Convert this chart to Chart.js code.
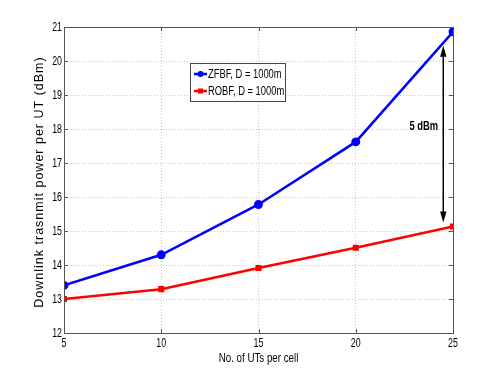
<!DOCTYPE html>
<html><head><meta charset="utf-8">
<script src="https://cdn.jsdelivr.net/npm/chart.js@4/dist/chart.umd.min.js"></script>
<style>html,body{margin:0;padding:0;background:#fff}#wrap{width:498px;height:374px}</style>
</head><body><div id="wrap"><canvas id="c" width="498" height="374"></canvas></div>
<script>
const categories = [5, 10, 15, 20, 25];
const zfbf = [13.4, 14.3, 15.78, 17.62, 20.86];
const robf = [13.0, 13.29, 13.91, 14.51, 15.13];
const seriesNames = ['ZFBF, D = 1000m', 'ROBF, D = 1000m'];
const yTicks = [12, 13, 14, 15, 16, 17, 18, 19, 20, 21];
const xTicks = [5, 10, 15, 20, 25];
const xTitle = 'No. of UTs per cell';
const yTitle = 'Downlink trasnmit power per UT (dBm)';
const arrowX = 24.5, arrowTop = 20.45, arrowBottom = 15.25;
const arrowLabel = '5 dBm', arrowLabelX = 23.5, arrowLabelY = 18.08;
const FONT = '"Liberation Sans", Arial, sans-serif';

function narrowText(ctx, t, x, y, font, sx, align) {
  ctx.save();
  ctx.font = font; ctx.textAlign = align; ctx.textBaseline = 'middle';
  ctx.translate(x, y); ctx.scale(sx, 1);
  ctx.fillText(t, 0, 0);
  ctx.restore();
}

const framePlugin = {
  id: 'frame',
  afterDatasetsDraw(chart) {
    const {ctx, chartArea: a, scales: {x, y}} = chart;
    ctx.save();
    ctx.strokeStyle = '#555'; ctx.lineWidth = 1;
    ctx.beginPath();
    xTicks.forEach(v => { const px = Math.round(x.getPixelForValue(v)) + 0.5;
      ctx.moveTo(px, a.bottom); ctx.lineTo(px, a.bottom - 4);
      ctx.moveTo(px, a.top); ctx.lineTo(px, a.top + 4); });
    yTicks.forEach(v => { const py = Math.round(y.getPixelForValue(v)) + 0.5;
      ctx.moveTo(a.left, py); ctx.lineTo(a.left + 4, py);
      ctx.moveTo(a.right, py); ctx.lineTo(a.right - 4, py); });
    ctx.stroke();
    ctx.strokeRect(Math.round(a.left) + 0.5, Math.round(a.top) + 0.5, Math.round(a.right - a.left), Math.round(a.bottom - a.top));
    // tick labels
    ctx.fillStyle = '#000';
    const tf = '13px ' + FONT;
    xTicks.forEach(v => narrowText(ctx, String(v), x.getPixelForValue(v), a.bottom + 10, tf, 0.68, 'center'));
    yTicks.forEach(v => narrowText(ctx, String(v), a.left - 2, y.getPixelForValue(v), tf, 0.68, 'right'));
    // arrow
    const ax = x.getPixelForValue(arrowX), y1 = y.getPixelForValue(arrowTop), y2 = y.getPixelForValue(arrowBottom);
    ctx.strokeStyle = '#000'; ctx.fillStyle = '#000'; ctx.lineWidth = 1.5;
    ctx.beginPath(); ctx.moveTo(ax, y1 + 8); ctx.lineTo(ax, y2 - 8); ctx.stroke();
    ctx.beginPath(); ctx.moveTo(ax, y1); ctx.lineTo(ax - 3.2, y1 + 11); ctx.lineTo(ax + 3.2, y1 + 11); ctx.closePath(); ctx.fill();
    ctx.beginPath(); ctx.moveTo(ax, y2); ctx.lineTo(ax - 3.2, y2 - 11); ctx.lineTo(ax + 3.2, y2 - 11); ctx.closePath(); ctx.fill();
    narrowText(ctx, arrowLabel, x.getPixelForValue(arrowLabelX), y.getPixelForValue(arrowLabelY), 'bold 12px ' + FONT, 0.78, 'center');
    // legend
    const lx = 190, ly = 63, lw = 95, lh = 38;
    ctx.fillStyle = '#fff'; ctx.fillRect(lx, ly, lw, lh);
    ctx.strokeStyle = '#444'; ctx.lineWidth = 1; ctx.strokeRect(lx + 0.5, ly + 0.5, lw, lh);
    const cols = ['#0000ff', '#ff0000'];
    seriesNames.forEach((n, i) => {
      const yy = ly + 11 + i * 17;
      ctx.strokeStyle = cols[i]; ctx.lineWidth = 2.5;
      ctx.beginPath(); ctx.moveTo(lx + 4, yy); ctx.lineTo(lx + 17, yy); ctx.stroke();
      ctx.fillStyle = cols[i];
      if (i === 0) { ctx.beginPath(); ctx.arc(lx + 10.5, yy, 3, 0, Math.PI * 2); ctx.fill(); }
      else ctx.fillRect(lx + 8, yy - 2.5, 5, 5);
      ctx.fillStyle = '#000';
      narrowText(ctx, n, lx + 18, yy + 0.5, '12px ' + FONT, 0.78, 'left');
    });
    // axis titles
    ctx.fillStyle = '#000';
    narrowText(ctx, xTitle, (a.left + a.right) / 2, 359, '12.5px ' + FONT, 0.78, 'center');
    ctx.save();
    ctx.translate(40, (a.top + a.bottom) / 2 + 2);
    ctx.rotate(-Math.PI / 2);
    ctx.font = '12.5px ' + FONT; ctx.textAlign = 'center'; ctx.textBaseline = 'middle';
    ctx.letterSpacing = '1px';
    ctx.fillText(yTitle, 0, 0);
    ctx.restore();
    ctx.restore();
  }
};

new Chart(document.getElementById('c'), {
  type: 'line',
  data: {
    datasets: [
      {label: seriesNames[0], data: categories.map((c, i) => ({x: c, y: zfbf[i]})), borderColor: '#0000ff', backgroundColor: '#0000ff', borderWidth: 2.5, pointRadius: 3.2, pointStyle: 'circle', tension: 0},
      {label: seriesNames[1], data: categories.map((c, i) => ({x: c, y: robf[i]})), borderColor: '#ff0000', backgroundColor: '#ff0000', borderWidth: 2.5, pointRadius: 2.5, pointStyle: 'rect', tension: 0}
    ]
  },
  options: {
    responsive: false, animation: false, devicePixelRatio: 1,
    layout: {padding: {top: 27, right: 45, left: 0, bottom: 0}},
    plugins: {legend: {display: false}, tooltip: {enabled: false}},
    scales: {
      x: {type: 'linear', min: 5, max: 25,
        afterBuildTicks: s => { s.ticks = xTicks.map(v => ({value: v})); },
        afterFit: s => { s.height = 41; },
        grid: {color: '#c8c8c8', lineWidth: 1, drawTicks: false, tickLength: 0},
        border: {display: false, dash: [1, 2]},
        ticks: {display: false}
      },
      y: {type: 'linear', min: 12, max: 21,
        afterBuildTicks: s => { s.ticks = yTicks.map(v => ({value: v})); },
        afterFit: s => { s.width = 64; },
        grid: {color: '#c8c8c8', lineWidth: 1, drawTicks: false},
        border: {display: false, dash: [1, 2]},
        ticks: {display: false}
      }
    }
  },
  plugins: [framePlugin]
});
</script></body></html>
